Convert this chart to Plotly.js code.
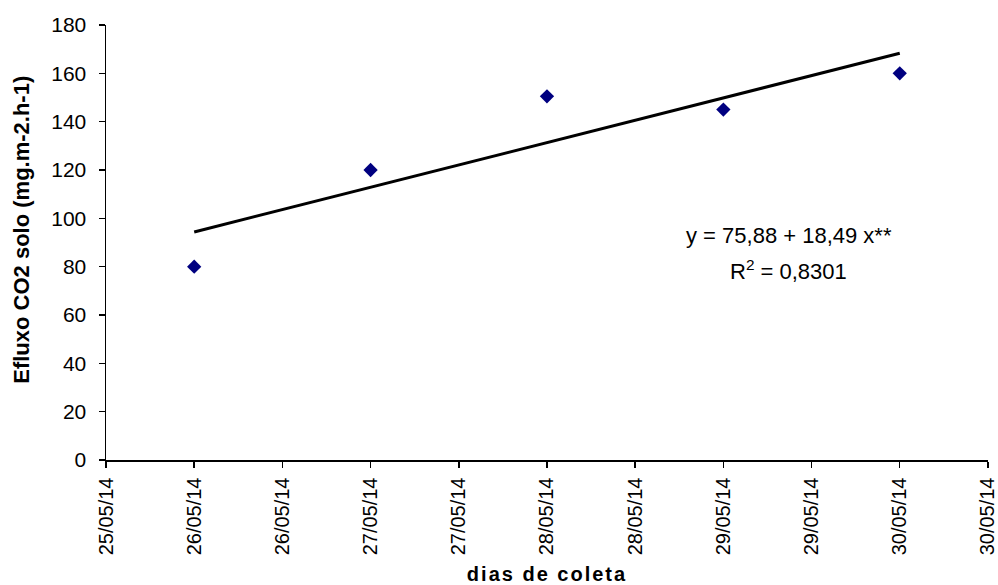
<!DOCTYPE html>
<html>
<head>
<meta charset="utf-8">
<script src="https://cdn.plot.ly/plotly-3.0.1.min.js"></script>
<style>
html,body{margin:0;padding:0;background:#fff;}
#chart{width:998px;height:585px;}
.xtitle{letter-spacing:2px;}
</style>
</head>
<body>
<div id="chart"></div>
<script>
// Data
const dates = ['2014-05-26', '2014-05-27', '2014-05-28', '2014-05-29', '2014-05-30'];
const efluxo = [80, 120, 150.5, 145, 160];
// Regression y = a + b*x (x = day index 1..5)
const regA = 75.88;
const regB = 18.49;
const regIndex = [1, 2, 3, 4, 5];
const eqText = 'y = 75,88 + 18,49 x**';
const r2Text = 'R<sup>2</sup> = 0,8301';
const xTitle = 'dias de coleta';
const yTitle = 'Efluxo CO2 solo (mg.m-2.h-1)';

const trendX = [dates[0], dates[dates.length - 1]];
const trendY = [regA + regB * regIndex[0], regA + regB * regIndex[regIndex.length - 1]];

const font = 'Liberation Sans, Arial, sans-serif';

const traces = [
  {
    x: trendX, y: trendY, type: 'scatter', mode: 'lines',
    line: {color: '#000000', width: 3}, hoverinfo: 'skip', showlegend: false
  },
  {
    x: dates, y: efluxo, type: 'scatter', mode: 'markers',
    marker: {symbol: 'diamond', color: '#000080', size: 11}, showlegend: false
  }
];

const layout = {
  width: 998, height: 585,
  margin: {l: 106, r: 10, t: 25, b: 125},
  paper_bgcolor: '#fff', plot_bgcolor: '#fff',
  font: {family: font, color: '#000'},
  showlegend: false,
  xaxis: {
    type: 'date',
    range: ['2014-05-25 12:00', '2014-05-30 12:00:30'],
    tick0: '2014-05-25 12:00', dtick: 43200000,
    tickformat: '%d/%m/%y',
    tickangle: -90,
    tickfont: {size: 20, family: font, color: '#000'},
    ticks: 'outside', ticklen: 6, tickwidth: 1.5, tickcolor: '#000',
    ticklabelstandoff: 2,
    ticklabeloverflow: 'allow',
    showline: true, linecolor: '#000', linewidth: 1.5,
    showgrid: false, zeroline: false,
    title: {text: '<b>' + xTitle + '</b>', font: {size: 20, family: font, color: '#000'}, standoff: 20}
  },
  yaxis: {
    range: [0, 180], dtick: 20, tick0: 0,
    tickfont: {size: 21, family: font, color: '#000'},
    ticks: 'outside', ticklen: 6, tickwidth: 1.5, tickcolor: '#000',
    ticklabelstandoff: 8,
    showline: true, linecolor: '#000', linewidth: 1.5,
    showgrid: false, zeroline: false
  },
  annotations: [
    {xref: 'paper', yref: 'paper', x: -0.096, y: 0.53, xanchor: 'center', yanchor: 'middle',
     textangle: -90, text: '<b>' + yTitle + '</b>', showarrow: false,
     font: {size: 22, family: font, color: '#000'}},
    {xref: 'paper', yref: 'paper', x: 0.774, y: 0.515, xanchor: 'center', yanchor: 'middle',
     text: eqText, showarrow: false, font: {size: 22, family: font, color: '#000'}},
    {xref: 'paper', yref: 'paper', x: 0.774, y: 0.437, xanchor: 'center', yanchor: 'middle',
     text: r2Text, showarrow: false, font: {size: 22, family: font, color: '#000'}}
  ]
};

Plotly.newPlot('chart', traces, layout, {displayModeBar: false, staticPlot: true});
</script>
</body>
</html>
